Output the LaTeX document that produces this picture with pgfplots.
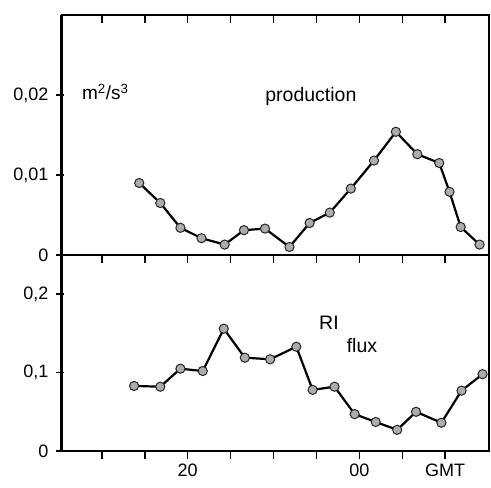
\documentclass[border=0pt]{standalone}
\usepackage{pgfplots}
\pgfplotsset{compat=1.18}
\usepackage{fontspec}
\setmainfont{Liberation Sans}
\begin{document}
\begin{tikzpicture}
\useasboundingbox (-62pt,-37pt) rectangle (429pt,451pt);
\pgfplotsset{
  every axis/.append style={
    scale only axis, width=427pt,
    xmin=17.07, xmax=27.02,
    xtick={18,19,20,21,22,23,24,25,26},
    axis line style={line width=1.5pt},
    tick style={line width=1.5pt, black},
    major tick length=8pt,
    tick align=inside,
    ytick pos=left,
    ytick style={xshift=-6pt},
    scaled y ticks=false,
    /pgf/number format/assume math mode=true,
    tick label style={font=\fontsize{18}{20}\selectfont},
    yticklabel style={xshift=-10pt},
    clip=false,
  },
  dat/.style={black, line width=2.2pt, mark=*, mark size=4.6pt,
    mark options={fill=gray!65, draw=black!85, line width=1pt}},
}
% top panel
\begin{axis}[at={(0,196pt)}, height=240pt,
  ymin=0, ymax=0.03,
  ytick={0,0.01,0.02}, yticklabels={0,{0,01},{0,02}},
  xtick pos=top, xticklabels={}]
\addplot[dat] coordinates {
(18.87,0.0090) (19.36,0.0065) (19.83,0.0034) (20.32,0.0021) (20.86,0.0013)
(21.31,0.0031) (21.80,0.0033) (22.37,0.0010) (22.84,0.0040) (23.31,0.0053)
(23.80,0.0083) (24.34,0.0118) (24.85,0.0154) (25.35,0.0126) (25.86,0.0115)
(26.10,0.0079) (26.36,0.0035) (26.80,0.0013)};
\draw[line width=3pt] (rel axis cs:0,0) -- (rel axis cs:0,1);
\node[font=\fontsize{19.5}{22}\selectfont] at (axis cs:22.87,0.0198) {production};
\node[font=\fontsize{19}{22}\selectfont] at (axis cs:18.08,0.0204) {m\textsuperscript{2}/s\textsuperscript{3}};
\end{axis}
% bottom panel
\begin{axis}[height=196pt,
  ymin=0, ymax=0.25,
  ytick={0,0.1,0.2}, yticklabels={0,{0,1},{0,2}},
  xtick pos=top, xticklabels={}]
\addplot[dat] coordinates {
(18.75,0.083) (19.36,0.082) (19.83,0.105) (20.35,0.102) (20.84,0.156)
(21.33,0.119) (21.92,0.117) (22.53,0.133) (22.91,0.078) (23.42,0.082)
(23.89,0.047) (24.38,0.037) (24.88,0.027) (25.32,0.050) (25.91,0.036)
(26.38,0.077) (26.87,0.098)};
\draw[line width=3pt] (rel axis cs:0,0) -- (rel axis cs:0,1);
\node[font=\fontsize{19.5}{22}\selectfont] at (axis cs:23.29,0.163) {RI};
\node[font=\fontsize{19.5}{22}\selectfont] at (axis cs:24.06,0.135) {flux};
\end{axis}
% bottom ticks outward with labels
\begin{axis}[height=196pt, ymin=0, ymax=0.25,
  hide y axis, axis x line*=bottom, tick align=outside,
  xticklabels={,,20,,,,00,,GMT},
  xticklabel style={yshift=-1pt}]
\addplot[draw=none] coordinates {(20,0)};
\end{axis}
\end{tikzpicture}
\end{document}
